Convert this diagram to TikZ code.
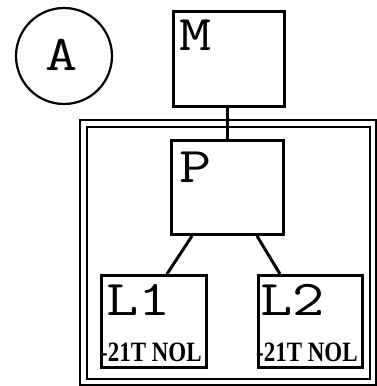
\documentclass[tikz,border=0pt]{standalone}
\usepackage{fontspec}
\newfontfamily\tagfont{Liberation Serif}
\newcommand{\widett}[1]{\scalebox{1.25}[1]{#1}}
\newcommand{\narrowtag}[1]{\scalebox{0.82}[1]{#1}}
\begin{document}
\begin{tikzpicture}[x=1pt,y=-1pt,
  box/.style={draw, line width=3pt, inner sep=0pt, anchor=north west},
  frameline/.style={draw, line width=2pt, inner sep=0pt, anchor=north west},
  conn/.style={line width=3pt},
  big/.style={inner sep=0pt, anchor=base west, font=\fontsize{50}{50}\ttfamily},
  tag/.style={inner sep=0pt, anchor=base west, font=\fontsize{28}{28}\tagfont\bfseries}]
\useasboundingbox (0,0) rectangle (377,386);
\node[draw, circle, line width=2.2pt, minimum size=96pt, inner sep=0pt] (A) at (64,56) {};
\node[big, anchor=base] (Atext) at (62,70) {\widett{A}};
\node[box, minimum width=111pt, minimum height=95pt] (M) at (172,10) {};
\node[frameline, minimum width=296pt, minimum height=265pt] (frameout) at (79,119) {};
\node[frameline, minimum width=283pt, minimum height=252pt] (framein) at (86,126) {};
\node[box, minimum width=112pt, minimum height=94pt] (P) at (170,139) {};
\node[box, minimum width=105pt, minimum height=92pt] (L1) at (100,274) {};
\node[box, minimum width=104pt, minimum height=92pt] (L2) at (257,274) {};
\node[big] (Mtext) at (179,50) {\widett{M}};
\node[big] (Ptext) at (179,182) {\widett{P}};
\node[big] (L1text) at (106,315) {\widett{L1}};
\node[big] (L2text) at (260,315) {\widett{L2}};
\node[tag] (L1tag) at (100,361) {\narrowtag{-21T NOL}};
\node[tag] (L2tag) at (256,361) {\narrowtag{-21T NOL}};
\draw[conn] (P.north) -- (P.north |- M.south);
\draw[conn] ([xshift=22pt]P.south west) -- ([xshift=67pt]L1.north west);
\draw[conn] ([xshift=87pt]P.south west) -- ([xshift=23pt]L2.north west);
\end{tikzpicture}
\end{document}
